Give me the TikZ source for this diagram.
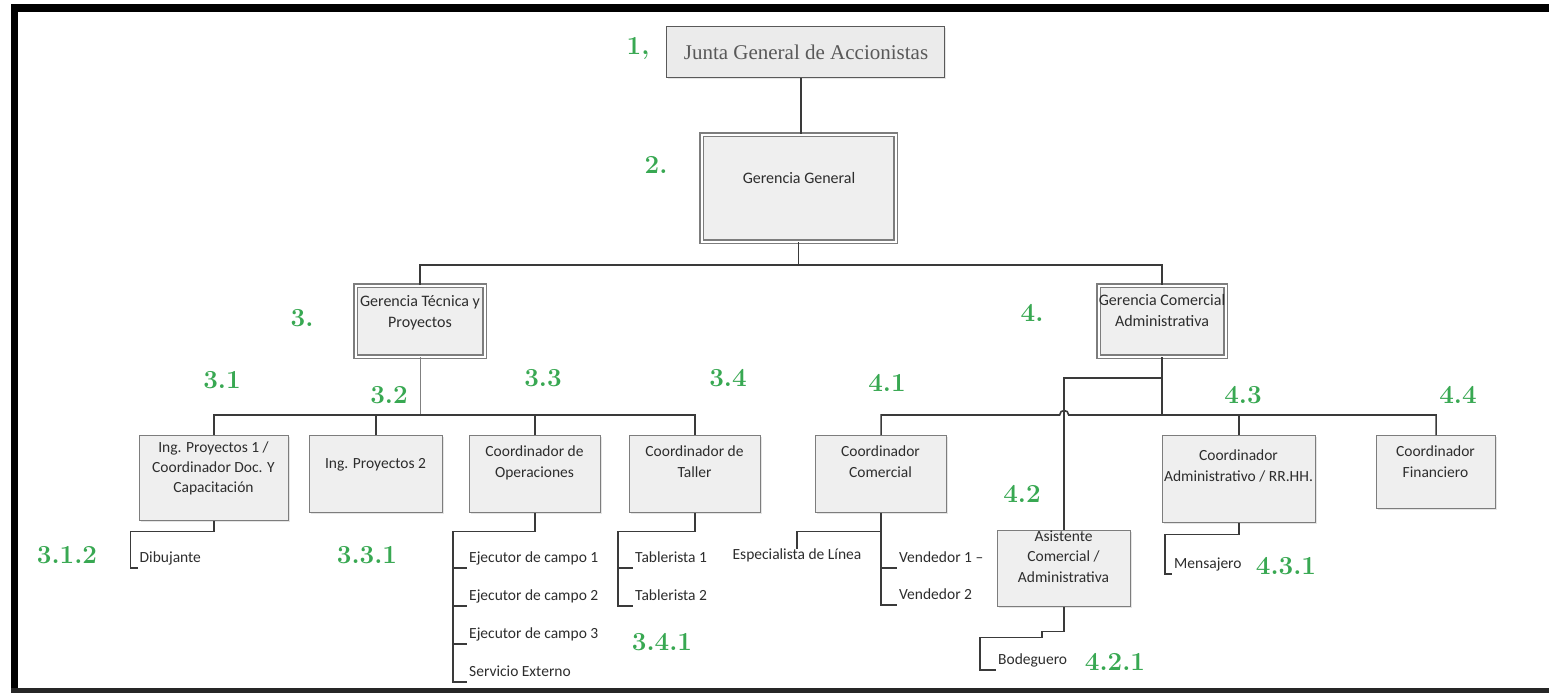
\documentclass[tikz,border=0pt]{standalone}
\usepackage{fontspec}
\newfontfamily\cali{Carlito}
\newfontfamily\jserif{Liberation Serif}
\usetikzlibrary{shadows,calc}
\definecolor{lbl}{RGB}{56,168,82}
\definecolor{boxfill}{RGB}{239,239,239}
\definecolor{boxline}{RGB}{125,125,125}
\definecolor{conncol}{RGB}{58,58,58}
\definecolor{txtc}{RGB}{45,45,45}
\begin{document}
\begin{tikzpicture}[x=1pt,y=-1pt,
  sbox/.style={draw=boxline, line width=1.3pt, fill=boxfill, inner sep=0pt, anchor=north west,
    drop shadow={shadow xshift=1.5pt, shadow yshift=-1.5pt, opacity=0.2}},
  dbox/.style={draw=boxline, line width=1.4pt, double=white, double distance=2pt, fill=boxfill, inner sep=0pt,
    drop shadow={shadow xshift=2pt, shadow yshift=-2pt, opacity=0.2}},
  btxt/.style={font=\cali\fontsize{15.5}{21}\selectfont, text=txtc, align=center, inner sep=0pt, anchor=north},
  gtxt/.style={btxt, font=\cali\fontsize{16}{21}\selectfont},
  leaf/.style={font=\cali\fontsize{15.5}{17}\selectfont, text=txtc, inner xsep=2pt, inner ysep=0pt, text depth=5pt, anchor=south west},
  num/.style={font=\bfseries\fontsize{26}{28}\selectfont, text=lbl, inner sep=0pt},
  cn/.style={draw=conncol, line width=1.6pt},
  thincn/.style={draw=gray, line width=0.8pt}]
\useasboundingbox (0,0) rectangle (1549,693);
\fill[white] (0,0) rectangle (1549,693);
% frame
\fill[black] (11,4) rectangle (1549,12);
\fill[black] (11,4) rectangle (18,693);
\fill[black!85] (11,688) rectangle (1549,693);

% level coordinates
\coordinate (L1) at (0,265);
\coordinate (L3) at (0,415);
\coordinate (L4b) at (0,378);
\coordinate (JX) at (801,0);

% boxes
\node[sbox, draw=black!65, fill=black!8, minimum width=278pt, minimum height=51pt] (j) at (666,26) {};
\node[font=\jserif\fontsize{21}{23}\selectfont, text=black!65] (jt) at (806,52) {Junta General de Accionistas};

\node[dbox, minimum width=194pt, minimum height=107pt] (gg) at (798.5,188) {};
\node[gtxt, anchor=center] (ggt) at (799,178) {Gerencia General};

\node[dbox, minimum width=129pt, minimum height=71pt] (gt) at (420,321) {};
\node[gtxt] (gtt) at (420,295.5) {Gerencia Técnica y\\Proyectos};

\node[dbox, minimum width=127pt, minimum height=71pt] (gc) at (1162,321) {};
\node[gtxt] (gct) at (1162,294.5) {Gerencia Comercial\\Administrativa};

\node[sbox, minimum width=149pt, minimum height=85pt] (b31) at (139,435) {};
\node[btxt, font=\cali\fontsize{15.5}{20}\selectfont] (b31t) at (213.5,441.5) {Ing. Proyectos 1 /\\Coordinador Doc. Y\\Capacitación};
\node[sbox, minimum width=133pt, minimum height=77pt] (b32) at (309,435) {};
\node[btxt] (b32t) at (375.5,458.5) {Ing. Proyectos 2};
\node[sbox, minimum width=131pt, minimum height=77pt] (b33) at (469,435) {};
\node[btxt] (b33t) at (534.5,445.5) {Coordinador de\\Operaciones};
\node[sbox, minimum width=131pt, minimum height=77pt] (b34) at (629,435) {};
\node[btxt] (b34t) at (694.5,445.5) {Coordinador de\\Taller};

\node[sbox, minimum width=131pt, minimum height=77pt] (b41) at (815,435) {};
\node[btxt] (b41t) at (880.5,445.5) {Coordinador\\Comercial};
\node[sbox, minimum width=133pt, minimum height=76pt] (b42) at (997,530) {};
\node[btxt, font=\cali\fontsize{15.5}{20.5}\selectfont] (b42t) at (1063.5,530.5) {Asistente\\Comercial /\\Administrativa};
\node[sbox, minimum width=153pt, minimum height=87pt] (b43) at (1162,435) {};
\node[btxt] (b43t) at (1238.5,449.5) {Coordinador\\Administrativo / RR.HH.};
\node[sbox, minimum width=119pt, minimum height=73pt] (b44) at (1376,435) {};
\node[btxt] (b44t) at (1435.5,445.5) {Coordinador\\Financiero};

% leaves
\node[leaf] (dib) at (137.5,568) {Dibujante};
\node[leaf] (e1) at (467,568) {Ejecutor de campo 1};
\node[leaf] (e2) at (467,606) {Ejecutor de campo 2};
\node[leaf] (e3) at (467,644) {Ejecutor de campo 3};
\node[leaf] (se) at (467,682) {Servicio Externo};
\node[leaf] (t1) at (633,568) {Tablerista 1};
\node[leaf] (t2) at (633,606) {Tablerista 2};
\node[leaf, anchor=north] (esp) at (797,549) {Especialista de Línea};
\node[leaf] (v1) at (897,568) {Vendedor 1 –};
\node[leaf] (v2) at (897,605) {Vendedor 2};
\node[leaf] (bod) at (996,670) {Bodeguero};
\node[leaf] (men) at (1172,574) {Mensajero};

% numbers
\node[num] (n1) at (638,48) {1,};
\node[num] (n2) at (656,165) {2.};
\node[num] (n3) at (302,318) {3.};
\node[num] (n4) at (1032,313) {4.};
\node[num] (n31) at (222,380) {3.1};
\node[num] (n32) at (389,395) {3.2};
\node[num] (n33) at (543,378) {3.3};
\node[num] (n34) at (728,378) {3.4};
\node[num] (n41) at (887,383) {4.1};
\node[num] (n42) at (1022,494) {4.2};
\node[num] (n43) at (1243,395) {4.3};
\node[num] (n44) at (1458,395) {4.4};
\node[num] (n312) at (67,555) {3.1.2};
\node[num] (n331) at (367,555) {3.3.1};
\node[num] (n341) at (662,642) {3.4.1};
\node[num] (n421) at (1115,662) {4.2.1};
\node[num] (n431) at (1286,566) {4.3.1};

% connectors top
\draw[cn, line width=1.3pt] (j.south -| JX) -- (JX |- gg.north);
\draw[cn] (gg.south) -- (gg.south |- L1);
\draw[cn] (gt.north) -- (gt.north |- L1) -- (gc.north |- L1) -- (gc.north);

% level 3
\draw[thincn] (gt.south) -- (gt.south |- L3);
\draw[cn] (b31.north) -- (b31.north |- L3) -- (b34.north |- L3) -- (b34.north);
\draw[cn] (b32.north) -- (b32.north |- L3);
\draw[cn] (b33.north) -- (b33.north |- L3);

% level 4
\draw[cn] (gc.south) -- (gc.south |- L3);
\draw[cn] (gc.south |- L4b) -- (b42.north |- L4b) -- (b42.north);
\draw[cn] (b41.north) -- (b41.north |- L3) -- ([xshift=-4.5pt]b42.north |- L3)
  .. controls +(0,-6) and +(0,-6) .. ([xshift=4.5pt]b42.north |- L3) -- (b44.north |- L3) -- (b44.north);
\draw[cn] (b43.north) -- (b43.north |- L3);

% leaf connectors
\draw[cn] (b31.south) -- ++(0,10) -| ([xshift=-7pt]dib.south west) -- (dib.south west);
\draw[cn] (b33.south) -- ++(0,18) -| ([xshift=-14pt]se.south west) -- (se.south west);
\draw[cn] ([xshift=-14pt]e1.south west) -- (e1.south west);
\draw[cn] ([xshift=-14pt]e2.south west) -- (e2.south west);
\draw[cn] ([xshift=-14pt]e3.south west) -- (e3.south west);
\draw[cn] (b34.south) -- ++(0,18) -| ([xshift=-15pt]t2.south west) -- (t2.south west);
\draw[cn] ([xshift=-15pt]t1.south west) -- (t1.south west);
\draw[cn] (b41.south) |- (v2.south west);
\draw[cn] (b41.south |- v1.south west) -- (v1.south west);
\draw[cn] ($(b41.south)+(0,18)$) -| (esp.north);
\draw[cn] (b42.south) -- ++(0,24) -- ++(-22,0) -- ++(0,6) -| ([xshift=-16pt]bod.south west) -- (bod.south west);
\draw[cn] (b43.south) -- ++(0,11) -| ([xshift=-7pt]men.south west) -- (men.south west);
\end{tikzpicture}
\end{document}
